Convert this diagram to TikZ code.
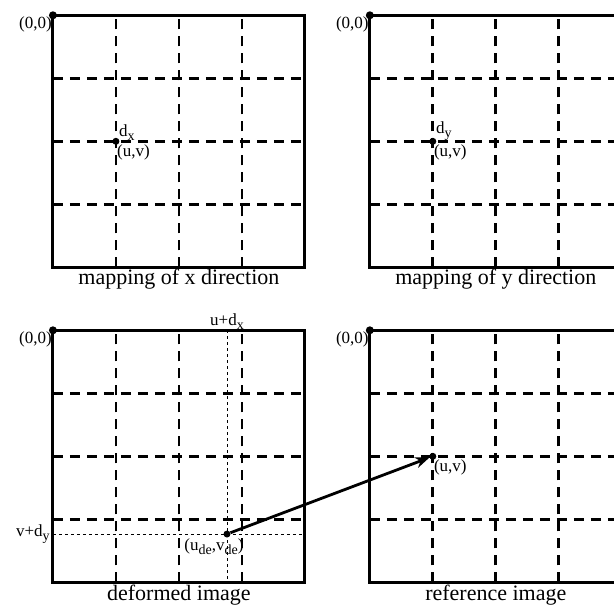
\documentclass[tikz,border=0pt]{standalone}
\usepackage{fontspec}
\setmainfont{Liberation Serif}
\usetikzlibrary{arrows.meta}

\newcommand{\lowsub}[1]{\raisebox{-0.45ex}{\fontsize{14}{14}\selectfont #1}}

\tikzset{
  frame/.style={line width=3pt},
  gridline/.style={line width=2.7pt, dash pattern=on 10pt off 7pt},
  guide/.style={line width=0.8pt, dash pattern=on 3pt off 3pt},
  dot/.style={circle, fill, inner sep=0pt, minimum size=7pt},
  lbl/.style={font=\fontsize{17}{20}\selectfont, inner sep=2pt},
  captext/.style={font=\fontsize{22}{25}\selectfont, inner sep=2pt},
}

\begin{document}
\begin{tikzpicture}[x=63pt, y=63pt]
    \clip (0,0) rectangle (9.746,9.683);

    % four panels: grid, frame, origin and caption
    \foreach \px/\py/\c/\nm in {0.84/5.44/mapping of x direction/mx,
                                5.87/5.44/mapping of y direction/my,
                                0.84/0.44/deformed image/de,
                                5.87/0.44/reference image/rf} {
        \foreach \k in {1,2,3} {
            \draw[gridline] (\px+\k, \py) -- (\px+\k, \py+4);
            \draw[gridline] (\px, \py+\k) -- (\px+4, \py+\k);
        }
        \draw[frame] (\px, \py) rectangle (\px+4, \py+4);
        \node[dot, minimum size=8pt] (o\nm) at (\px, \py+4) {};
        \node[lbl, below left, inner sep=1pt] (z\nm) at (o\nm.center) {(0,0)};
        \node[captext, below] (cap\nm) at (\px+2, \py) {\c};
    }

    % mapping of x direction
    \node[dot] (uvx) at (1.84, 7.44) {};
    \node[lbl, above right, inner sep=1pt, xshift=2pt] (dx) at (uvx.center) {d\lowsub{x}};
    \node[lbl, below right, inner sep=1pt, yshift=-2pt] (uvxl) at (uvx.center) {(u,v)};

    % mapping of y direction
    \node[dot] (uvy) at (6.87, 7.44) {};
    \node[lbl, above right, inner sep=1pt, xshift=2pt] (dy) at (uvy.center) {d\lowsub{y}};
    \node[lbl, below right, inner sep=1pt, yshift=-2pt] (uvyl) at (uvy.center) {(u,v)};

    % deformed image
    \coordinate (gtop) at (3.603, 4.44);
    \coordinate (gbot) at (3.603, 0.44);
    \coordinate (glft) at (0.84, 1.206);
    \coordinate (grgt) at (4.84, 1.206);
    \draw[guide] (gtop) -- (gbot);
    \draw[guide] (glft) -- (grgt);
    \node[lbl, above, inner sep=1pt] (udx) at (gtop) {u+d\lowsub{x}};
    \node[lbl, left, inner sep=3pt] (vdy) at (glft) {v+d\lowsub{y}};
    \node[dot] (ude) at (3.603, 1.206) {};
    \node[lbl, anchor=north, xshift=-13pt, inner sep=1pt] (udel) at (ude.south)
        {(u\lowsub{de},v\lowsub{de})};

    % reference image
    \node[dot] (uvr) at (6.87, 2.44) {};
    \node[lbl, below right, inner sep=1pt, yshift=-2pt] (uvrl) at (uvr.center) {(u,v)};

    \draw[-{Stealth[length=14pt, width=11pt]}, line width=2.8pt] (ude) -- (uvr);
\end{tikzpicture}
\end{document}
